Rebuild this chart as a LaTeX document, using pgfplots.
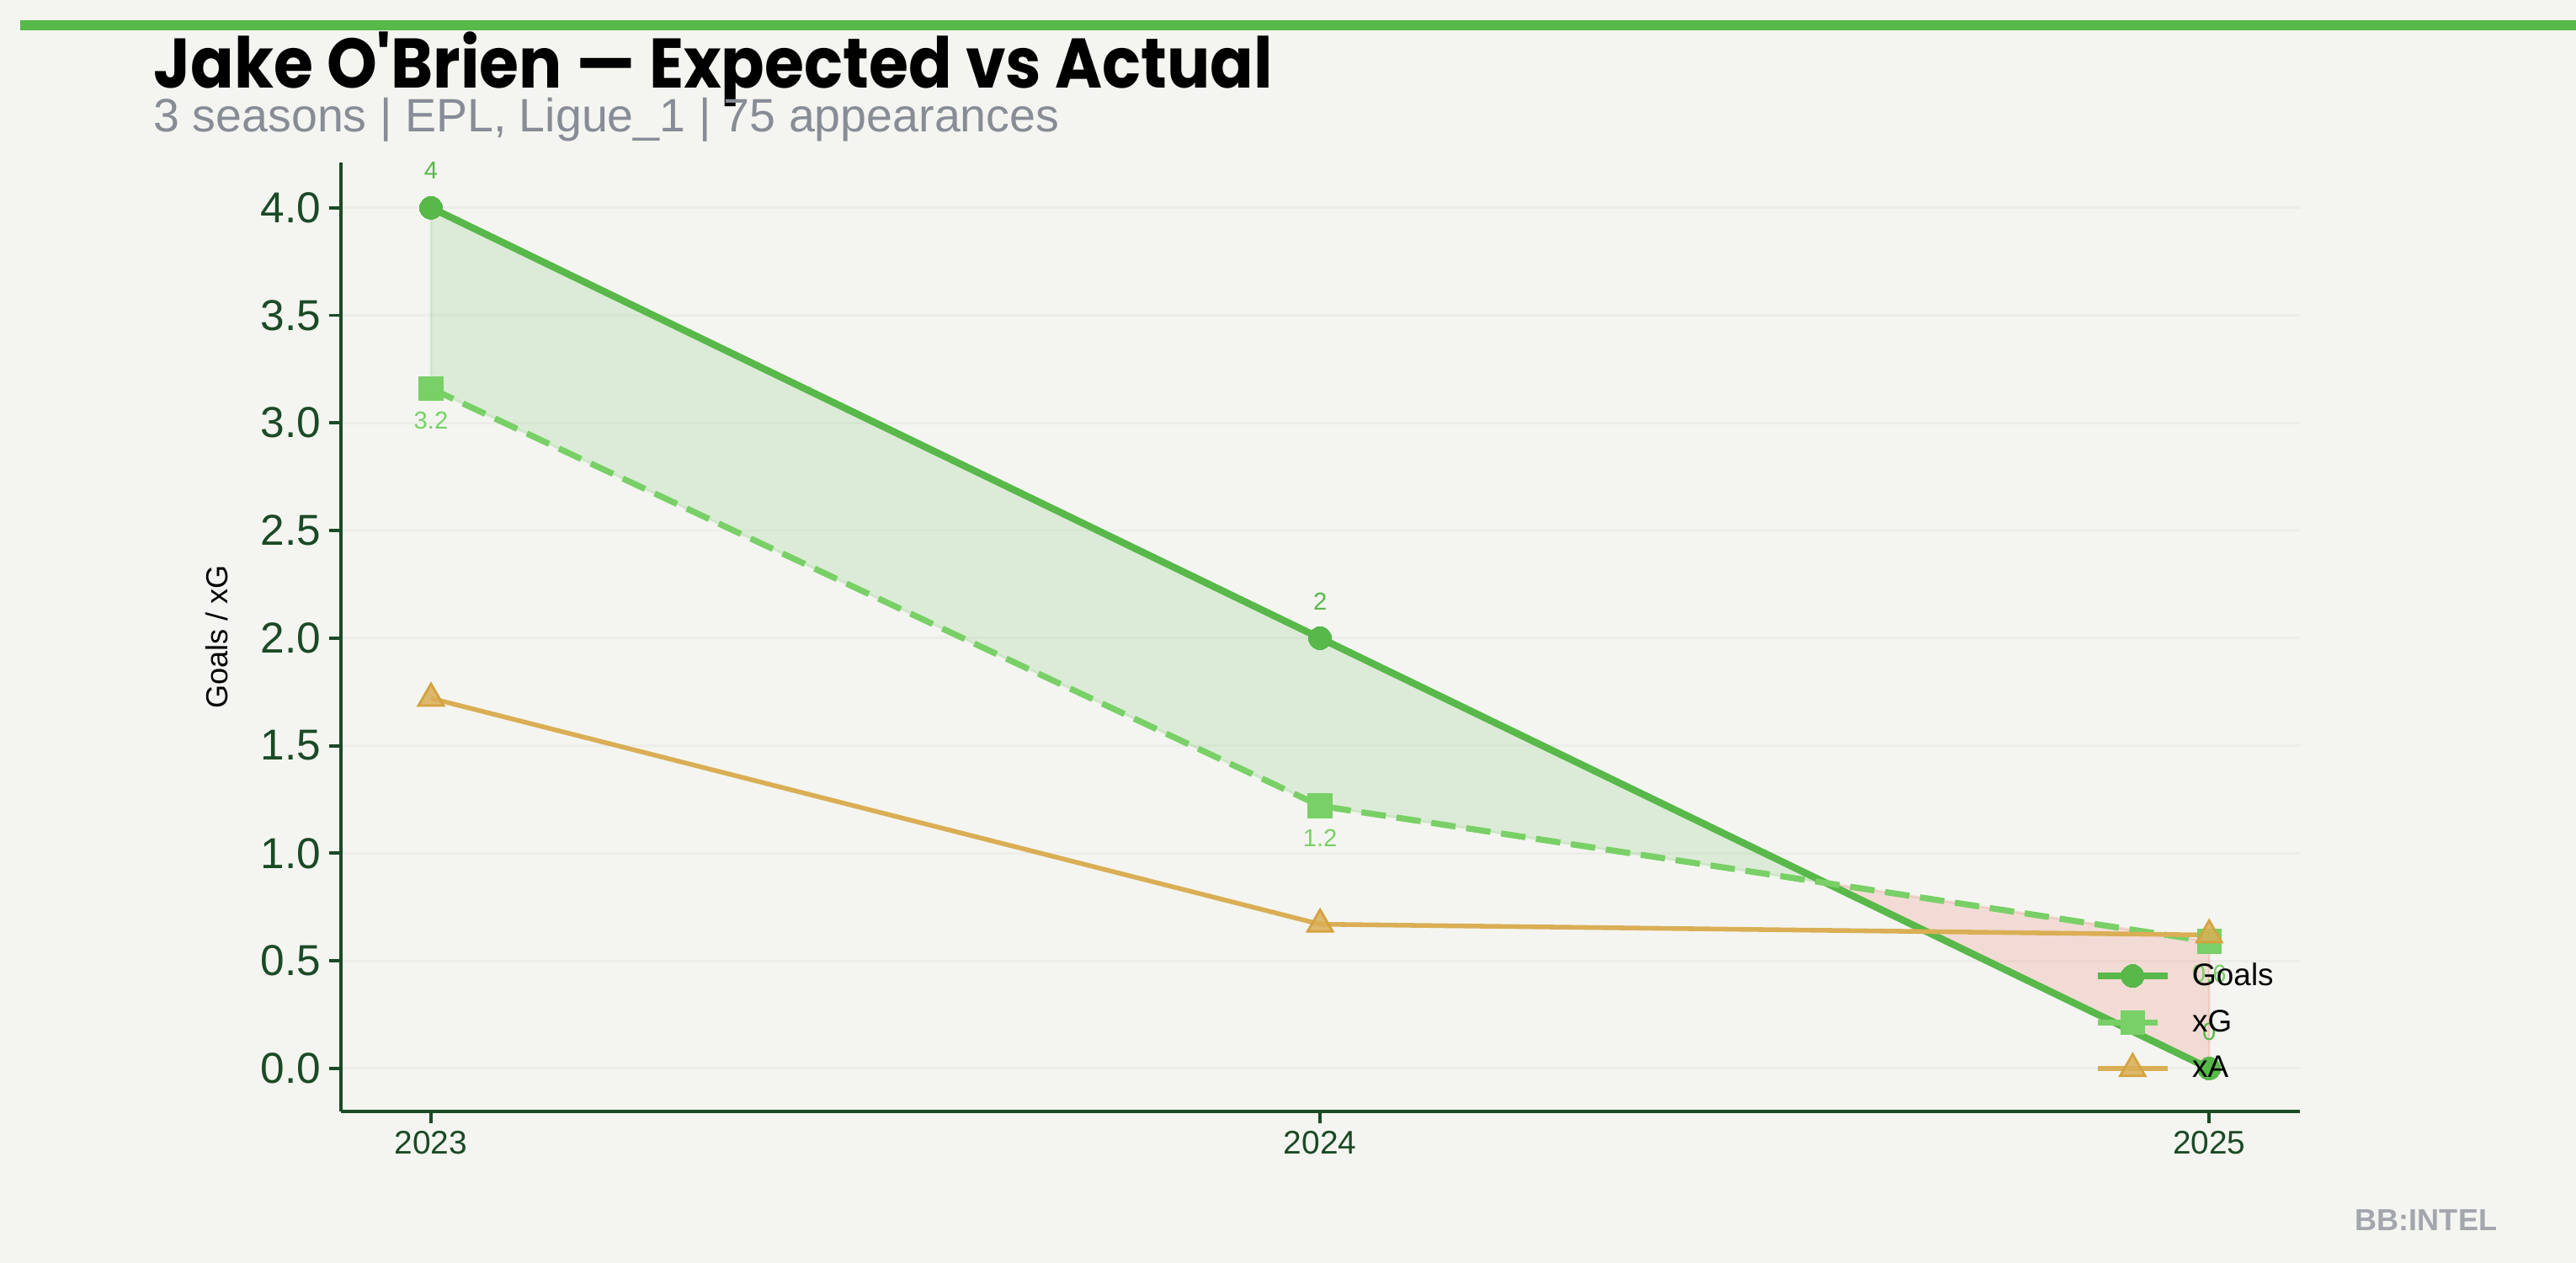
\documentclass[border=0pt]{standalone}
\usepackage{fontspec}
\setmainfont{Liberation Sans}
\newfontfamily\titlefont{Poppins}
\usepackage{pgfplots}
\pgfplotsset{compat=1.18}
\definecolor{bg}{HTML}{F4F5F0}
\definecolor{goals}{HTML}{58B84A}
\definecolor{xgc}{HTML}{78D066}
\definecolor{xac}{HTML}{DAAE55}
\definecolor{xaedge}{HTML}{D4A23E}
\definecolor{spine}{HTML}{1B4A26}
\definecolor{subg}{HTML}{878C96}
\definecolor{gridc}{HTML}{ECEDE7}
\definecolor{redf}{HTML}{E74C3C}
\definecolor{logo}{HTML}{A3A6AD}
\begin{document}
\begin{tikzpicture}[x=1pt,y=1pt]
\fill[bg] (0,0) rectangle (1101.6,540);
\fill[goals] (8.64,527.0) rectangle (1101.6,531.4);
\node[anchor=base west, inner sep=0] at (65.5,502.2) {\scalebox{0.913}[1]{\titlefont\bfseries\fontsize{30}{36}\selectfont Jake O\char39 Brien — Expected vs Actual}};
\node[anchor=base west, inner sep=0, text=subg] at (65.5,483.5) {\fontsize{20}{24}\selectfont 3 seasons | EPL, Ligue\_1 | 75 appearances};
\begin{axis}[
  name=ax, at={(145.8pt,64.8pt)}, anchor=south west,
  width=837.7pt, height=405.7pt, scale only axis,
  xmin=-0.1013, xmax=2.102, ymin=-0.2, ymax=4.21,
  axis x line*=bottom, axis y line*=left,
  axis line style={spine, line width=1.4pt, -},
  tick style={spine, line width=1.4pt},
  major tick length=5pt, tick align=outside,
  xtick={0,1,2}, xticklabels={2023,2024,2025},
  ytick={0,0.5,1,1.5,2,2.5,3,3.5,4},
  /pgf/number format/assume math mode=true,
  yticklabel style={/pgf/number format/.cd, fixed, fixed zerofill, precision=1, /tikz/.cd, font=\fontsize{18.5}{20}\selectfont, text=spine},
  xticklabel style={font=\fontsize{14}{16}\selectfont, text=spine},
  ymajorgrids, grid style={gridc, line width=1pt},
  legend style={at={(rel axis cs:0.8947,0.162)}, anchor=north west, draw=none, fill=none, inner sep=0pt, row sep=5pt, column sep=7pt, font=\fontsize{13.3}{15}\selectfont, legend cell align=left},
  legend image code/.code={\draw[mark repeat=2,mark phase=2,#1] plot coordinates {(0pt,0pt)(15pt,0pt)(30pt,0pt)};},
]
\addplot[forget plot, fill=goals, fill opacity=0.15, draw=goals, draw opacity=0.15, line width=1pt] coordinates {(0,4)(1,2)(1.5693,0.8613)(1,1.22)(0,3.16)} -- cycle;
\addplot[forget plot, fill=redf, fill opacity=0.15, draw=redf, draw opacity=0.15, line width=1pt] coordinates {(1.5693,0.8613)(2,0)(2,0.59)} -- cycle;
\addplot[goals, line width=3pt, mark=*, mark size=4.9pt, mark options={solid, fill=goals, draw=goals, line width=0pt},
  nodes near coords, point meta=explicit symbolic,
  every node near coord/.append style={anchor=center, yshift=15.8pt, font=\fontsize{10.5}{12}\selectfont, text=goals}]
  coordinates {(0,4)[4] (1,2)[2] (2,0)[0]};
\addlegendentry{Goals}
\addplot[xgc, line width=2.6pt, dash pattern=on 10.5pt off 4.6pt, mark=square*, mark size=5.1pt, mark options={solid, fill=xgc, draw=xgc, line width=0pt},
  nodes near coords, point meta=explicit symbolic,
  every node near coord/.append style={anchor=center, yshift=-13.7pt, font=\fontsize{10.5}{12}\selectfont, text=xgc}]
  coordinates {(0,3.16)[3.2] (1,1.22)[1.2] (2,0.59)[0.6]};
\addlegendentry{xG}
\addplot[xac, line width=2pt, mark=triangle*, mark size=6.2pt, mark options={solid, fill=xac, fill opacity=0.85, draw=xaedge, line width=1pt}]
  coordinates {(0,1.72) (1,0.67) (2,0.62)};
\addlegendentry{xA}
\end{axis}
\node[rotate=90, inner sep=0, font=\fontsize{13}{15}\selectfont] at ([xshift=-52.9pt]ax.west) {Goals / xG};
\node[anchor=base east, inner sep=0, text=logo, font=\bfseries\fontsize{13}{15}\selectfont] at (1068,13.7) {BB:INTEL};
\end{tikzpicture}
\end{document}
